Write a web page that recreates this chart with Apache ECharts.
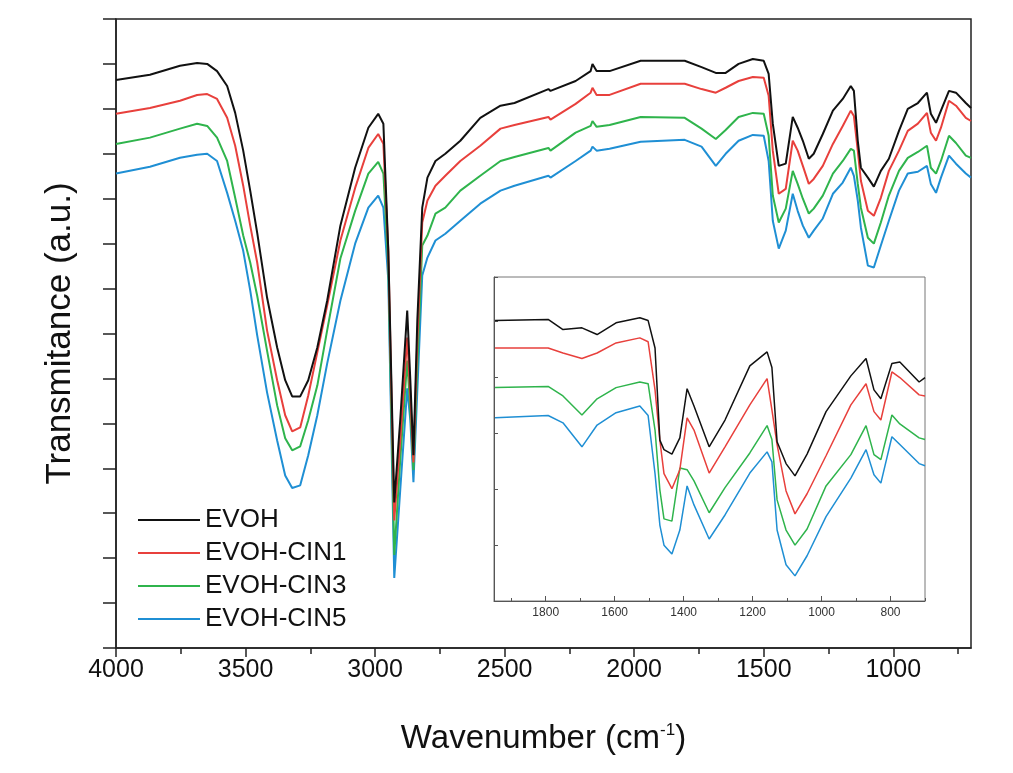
<!DOCTYPE html>
<html>
<head>
<meta charset="utf-8">
<title>FTIR EVOH</title>
<script src="https://cdn.jsdelivr.net/npm/echarts@6/dist/echarts.min.js"></script>
<style>
  html, body { margin: 0; padding: 0; background: #fff; }
  #chart { width: 1013px; height: 773px; }
</style>
</head>
<body>
<div id="chart"></div>
<script>
// sample names / legend
const sampleNames = ['EVOH', 'EVOH-CIN1', 'EVOH-CIN3', 'EVOH-CIN5'];

// tick values
const mainMajorTicks = [4000, 3500, 3000, 2500, 2000, 1500, 1000];
const mainMinorTicks = [3750, 3250, 2750, 2250, 1750, 1250, 750];
const insetMajorTicks = [1800, 1600, 1400, 1200, 1000, 800];
const insetMinorTicks = [1900, 1700, 1500, 1300, 1100, 900, 700];

// main panel: wavenumber (cm-1) and transmittance (a.u., offset stacked)
const mainWn = [4000, 3869, 3753, 3687, 3648, 3610, 3571, 3540, 3509, 3482, 3455, 3417, 3378, 3347, 3320, 3289, 3258, 3223, 3185, 3134,
  3077, 3026, 2988, 2968, 2949, 2926, 2903, 2876, 2864, 2852, 2837, 2818, 2798, 2767, 2729, 2671, 2594, 2516, 2462, 2331,
  2323, 2226, 2168, 2161, 2145, 2095, 1975, 1805, 1740, 1685, 1647, 1597, 1542, 1500, 1481, 1465, 1442, 1415, 1388, 1369,
  1349, 1326, 1307, 1272, 1233, 1195, 1164, 1152, 1137, 1125, 1098, 1075, 1048, 1017, 978, 944, 905, 870, 855, 835,
  816, 785, 758, 720, 700];
const evoh = [12.64, 12.76, 12.96, 13.02, 13.00, 12.84, 12.51, 11.91, 11.07, 10.18, 9.24, 7.80, 6.69, 5.96, 5.60, 5.60, 5.96, 6.69, 7.73, 9.40,
  10.69, 11.58, 11.89, 11.67, 8.84, 3.24, 5.07, 7.51, 5.96, 4.29, 7.29, 9.80, 10.47, 10.84, 11.00, 11.29, 11.80, 12.07, 12.13, 12.44,
  12.40, 12.62, 12.84, 13.00, 12.84, 12.84, 13.07, 13.07, 12.93, 12.80, 12.80, 13.00, 13.11, 13.07, 12.78, 11.67, 10.73, 10.78, 11.82, 11.58,
  11.29, 10.89, 11.00, 11.44, 11.96, 12.22, 12.51, 12.40, 11.29, 10.69, 10.47, 10.27, 10.62, 10.89, 11.51, 12.00, 12.13, 12.36, 11.89, 11.69,
  11.96, 12.40, 12.36, 12.13, 12.02];
const cin1 = [11.89, 12.02, 12.18, 12.31, 12.33, 12.22, 11.80, 11.18, 10.29, 9.40, 8.58, 7.07, 5.96, 5.18, 4.82, 4.91, 5.62, 6.58, 7.62, 9.07,
  10.24, 11.13, 11.44, 11.22, 8.84, 2.84, 4.62, 6.91, 5.62, 4.13, 6.84, 9.47, 9.96, 10.29, 10.51, 10.84, 11.18, 11.56, 11.64, 11.82,
  11.76, 12.11, 12.36, 12.47, 12.31, 12.31, 12.56, 12.56, 12.44, 12.36, 12.47, 12.62, 12.71, 12.69, 12.29, 11.07, 10.11, 10.22, 11.29, 11.07,
  10.73, 10.33, 10.44, 10.73, 11.22, 11.62, 11.96, 11.84, 11.07, 10.40, 9.73, 9.62, 10.02, 10.62, 11.07, 11.51, 11.67, 11.91, 11.47, 11.29,
  11.58, 12.18, 12.07, 11.80, 11.73];
const cin3 = [11.22, 11.36, 11.56, 11.67, 11.62, 11.36, 10.84, 10.02, 9.18, 8.58, 7.84, 6.62, 5.40, 4.67, 4.40, 4.49, 5.07, 5.84, 7.07, 8.67,
  9.73, 10.56, 10.82, 10.56, 8.51, 2.07, 4.18, 6.40, 5.29, 3.96, 6.29, 8.96, 9.18, 9.67, 9.80, 10.18, 10.51, 10.84, 10.93, 11.13,
  11.07, 11.47, 11.62, 11.73, 11.60, 11.64, 11.82, 11.80, 11.56, 11.33, 11.53, 11.82, 11.91, 11.89, 11.40, 10.07, 9.47, 9.78, 10.62, 10.33,
  10.00, 9.67, 9.78, 10.07, 10.56, 10.84, 11.11, 11.07, 10.33, 9.80, 9.13, 9.00, 9.47, 10.07, 10.62, 10.91, 11.04, 11.18, 10.69, 10.56,
  10.84, 11.40, 11.24, 10.96, 10.91];
const cin5 = [10.56, 10.71, 10.91, 10.98, 11.00, 10.84, 10.13, 9.51, 8.84, 7.96, 6.96, 5.69, 4.62, 3.84, 3.56, 3.62, 4.29, 5.18, 6.33, 7.73,
  9.00, 9.80, 10.07, 9.80, 8.18, 1.56, 3.51, 5.78, 5.07, 3.69, 5.73, 8.29, 8.69, 9.07, 9.22, 9.51, 9.89, 10.18, 10.29, 10.51,
  10.47, 10.84, 11.07, 11.16, 11.07, 11.11, 11.27, 11.31, 11.16, 10.73, 11.00, 11.29, 11.42, 11.40, 10.84, 9.51, 8.89, 9.29, 10.11, 9.73,
  9.40, 9.13, 9.29, 9.56, 10.11, 10.36, 10.69, 10.51, 9.96, 9.36, 8.51, 8.47, 8.96, 9.51, 10.18, 10.56, 10.60, 10.73, 10.33, 10.13,
  10.47, 10.96, 10.78, 10.56, 10.47];

// inset panel: fingerprint region
const insetWn = [1947, 1793, 1750, 1695, 1651, 1596, 1527, 1503, 1483, 1469, 1457, 1434, 1411, 1390, 1370, 1326, 1280, 1208, 1158, 1144,
  1129, 1103, 1077, 1042, 987, 915, 871, 848, 828, 796, 773, 717, 700];
const insetEvoh = [5.02, 5.04, 4.86, 4.89, 4.77, 4.98, 5.07, 5.02, 4.53, 2.88, 2.71, 2.63, 2.92, 3.80, 3.49, 2.76, 3.24, 4.21, 4.46, 4.18,
  2.85, 2.46, 2.24, 2.63, 3.39, 4.03, 4.34, 3.78, 3.62, 4.25, 4.28, 3.92, 4.00];
const insetCin1 = [4.53, 4.53, 4.44, 4.34, 4.44, 4.62, 4.71, 4.64, 3.78, 2.88, 2.28, 2.01, 2.35, 3.28, 3.06, 2.29, 2.76, 3.51, 3.98, 3.42,
  2.80, 1.97, 1.56, 1.92, 2.60, 3.51, 3.89, 3.39, 3.24, 4.10, 4.00, 3.69, 3.67];
const insetCin3 = [3.82, 3.84, 3.67, 3.33, 3.62, 3.82, 3.92, 3.89, 3.06, 1.99, 1.47, 1.43, 2.38, 2.35, 2.15, 1.58, 2.03, 2.65, 3.14, 2.89,
  1.81, 1.27, 1.00, 1.29, 2.06, 2.62, 3.14, 2.62, 2.53, 3.33, 3.17, 2.92, 2.89];
const insetCin5 = [3.28, 3.32, 3.19, 2.76, 3.15, 3.37, 3.49, 3.32, 2.28, 1.36, 1.00, 0.84, 1.27, 2.06, 1.72, 1.11, 1.54, 2.29, 2.67, 2.49,
  1.27, 0.65, 0.45, 0.81, 1.51, 2.20, 2.71, 2.26, 2.11, 2.94, 2.80, 2.46, 2.42];

const colors = ['#111111', '#e8403c', '#2fb44c', '#1f8fd4'];
const font = 'Liberation Sans, Arial, sans-serif';

const mainValues = [evoh, cin1, cin3, cin5];
const insetValues = [insetEvoh, insetCin1, insetCin3, insetCin5];

const zip = (xs, ys) => xs.map((x, i) => [x, ys[i]]);
const plain = v => String(v);

const chart = echarts.init(document.getElementById('chart'));

const series = [];
sampleNames.forEach((name, i) => {
  series.push({
    name: name,
    type: 'line',
    xAxisIndex: 0,
    yAxisIndex: 0,
    data: zip(mainWn, mainValues[i]),
    symbol: 'none',
    color: colors[i],
    lineStyle: { width: 2, color: colors[i] },
    z: 10 - i
  });
});
sampleNames.forEach((name, i) => {
  series.push({
    name: name,
    type: 'line',
    xAxisIndex: 2,
    yAxisIndex: 1,
    data: zip(insetWn, insetValues[i]),
    symbol: 'none',
    color: colors[i],
    lineStyle: { width: 1.5, color: colors[i] },
    z: 10 - i
  });
});

const option = {
  animation: false,
  backgroundColor: '#fff',
  grid: [
    { left: 116, top: 19, width: 855, height: 629, show: true, borderColor: '#222', borderWidth: 1.5, outerBoundsMode: 'none' },
    { left: 494, top: 277, width: 431, height: 324, show: true, borderColor: '#777', borderWidth: 1, backgroundColor: '#fff', outerBoundsMode: 'none' }
  ],
  legend: {
    orient: 'vertical',
    left: 133,
    top: 502,
    icon: 'rect',
    itemWidth: 62,
    itemHeight: 2,
    itemGap: 7,
    data: sampleNames,
    textStyle: { fontSize: 26, color: '#111', fontFamily: font }
  },
  xAxis: [
    {
      gridIndex: 0,
      type: 'value',
      position: 'bottom',
      min: 700,
      max: 4000,
      inverse: true,
      name: '{a|Wavenumber (cm}{s|-1}{a|)}',
      nameLocation: 'middle',
      nameGap: 74,
      nameTextStyle: {
        rich: {
          a: { fontSize: 33, color: '#111', fontFamily: font },
          s: { fontSize: 17, color: '#111', fontFamily: font, padding: [0, 0, 17, 0] }
        }
      },
      axisLine: { lineStyle: { color: '#222', width: 1.5 } },
      axisTick: { customValues: mainMajorTicks, length: 9, lineStyle: { color: '#222', width: 1.5 } },
      axisLabel: { customValues: mainMajorTicks, formatter: plain, fontSize: 25, color: '#111', fontFamily: font, margin: 10 },
      splitLine: { show: false }
    },
    {
      gridIndex: 0,
      type: 'value',
      position: 'bottom',
      min: 700,
      max: 4000,
      inverse: true,
      axisLine: { show: false },
      axisTick: { customValues: mainMinorTicks, length: 6, lineStyle: { color: '#222', width: 1.5 } },
      axisLabel: { show: false },
      splitLine: { show: false }
    },
    {
      gridIndex: 1,
      type: 'value',
      position: 'bottom',
      min: 700,
      max: 1950,
      inverse: true,
      axisLine: { lineStyle: { color: '#555', width: 1 } },
      axisTick: { customValues: insetMajorTicks, inside: true, length: 5, lineStyle: { color: '#555' } },
      axisLabel: { customValues: insetMajorTicks, formatter: plain, fontSize: 12, color: '#333', fontFamily: font, margin: 6 },
      splitLine: { show: false }
    },
    {
      gridIndex: 1,
      type: 'value',
      position: 'bottom',
      min: 700,
      max: 1950,
      inverse: true,
      axisLine: { show: false },
      axisTick: { customValues: insetMinorTicks, inside: true, length: 3, lineStyle: { color: '#555' } },
      axisLabel: { show: false },
      splitLine: { show: false }
    }
  ],
  yAxis: [
    {
      gridIndex: 0,
      type: 'value',
      min: 0,
      max: 14,
      interval: 1,
      name: 'Transmitance (a.u.)',
      nameLocation: 'middle',
      nameGap: 38,
      nameTextStyle: { fontSize: 35, color: '#111', fontFamily: font },
      axisLine: { show: true, lineStyle: { color: '#222', width: 1.5 } },
      axisTick: { show: true, length: 13, lineStyle: { color: '#222', width: 1.5 } },
      axisLabel: { show: false },
      splitLine: { show: false }
    },
    {
      gridIndex: 1,
      type: 'value',
      min: 0,
      max: 5.8,
      interval: 1,
      axisLine: { show: true, lineStyle: { color: '#555', width: 1 } },
      axisTick: { show: true, inside: true, length: 4, lineStyle: { color: '#555' } },
      axisLabel: { show: false },
      splitLine: { show: false }
    }
  ],
  series: series
};

chart.setOption(option);
</script>
</body>
</html>
